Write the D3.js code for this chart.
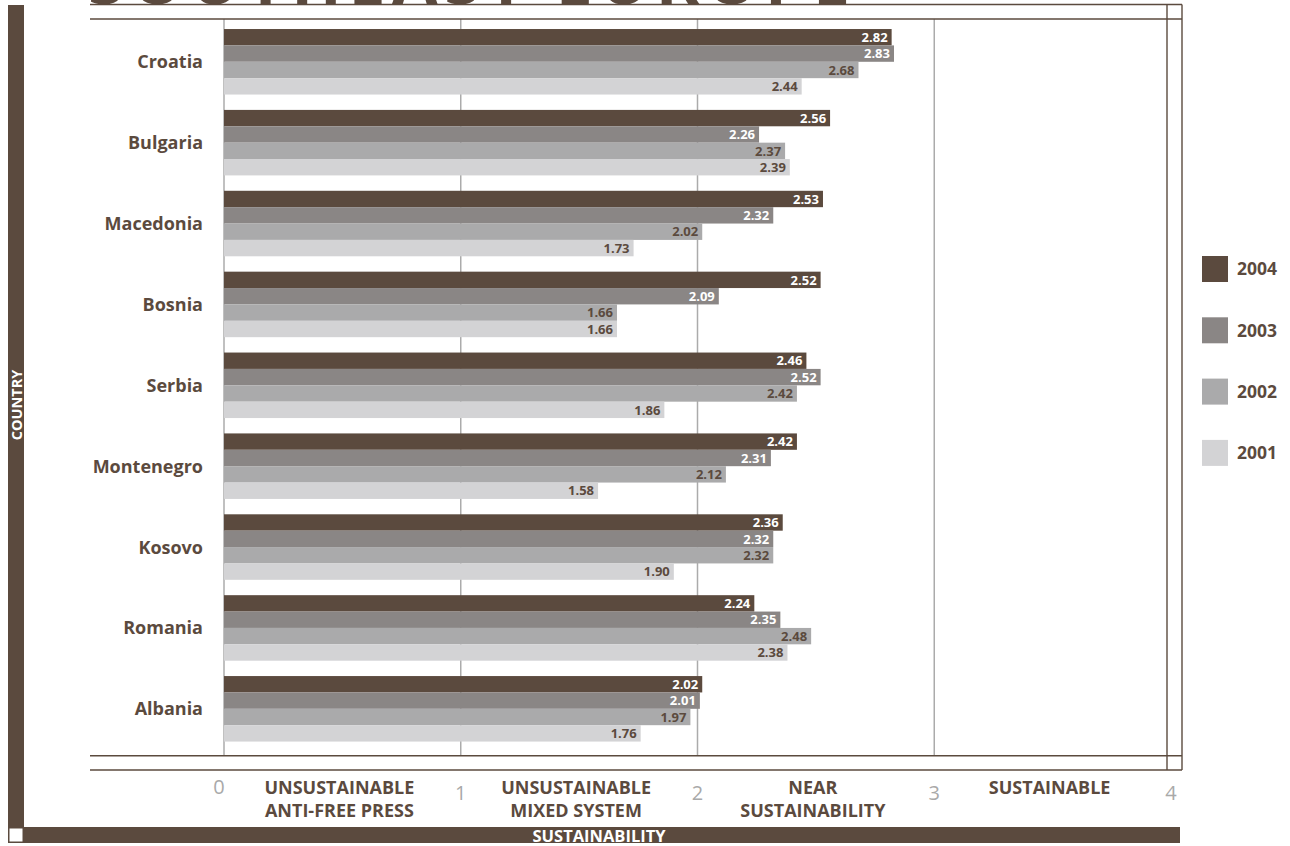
<!DOCTYPE html>
<html>
<head>
<meta charset="utf-8">
<script src="https://cdn.jsdelivr.net/npm/d3@7/dist/d3.min.js"></script>
<style>
  html, body { margin: 0; padding: 0; background: #fff; }
  svg { display: block; font-family: "Open Sans", "Noto Sans", sans-serif; }
</style>
</head>
<body>
<svg id="chart" width="1290" height="846"></svg>
<script>
// Media sustainability scores, Southeast Europe
const countries = ["Croatia", "Bulgaria", "Macedonia", "Bosnia", "Serbia", "Montenegro", "Kosovo", "Romania", "Albania"];
const years = ["2004", "2003", "2002", "2001"];
const v2004 = [2.82, 2.56, 2.53, 2.52, 2.46, 2.42, 2.36, 2.24, 2.02];
const v2003 = [2.83, 2.26, 2.32, 2.09, 2.52, 2.31, 2.32, 2.35, 2.01];
const v2002 = [2.68, 2.37, 2.02, 1.66, 2.42, 2.12, 2.32, 2.48, 1.97];
const v2001 = [2.44, 2.39, 1.73, 1.66, 1.86, 1.58, 1.90, 2.38, 1.76];
const tickValues = [0, 1, 2, 3, 4];
const zoneLabels = [
  ["UNSUSTAINABLE", "ANTI-FREE PRESS"],
  ["UNSUSTAINABLE", "MIXED SYSTEM"],
  ["NEAR", "SUSTAINABILITY"],
  ["SUSTAINABLE"]
];
const titleText = "SOUTHEAST EUROPE";
const yAxisTitle = "COUNTRY";
const xAxisTitle = "SUSTAINABILITY";

const seriesByYear = { "2004": v2004, "2003": v2003, "2002": v2002, "2001": v2001 };

const BROWN = "#5b4a3e";
const colors = d3.scaleOrdinal().domain(years).range([BROWN, "#8a8685", "#aaaaab", "#d3d3d5"]);
const labelColors = d3.scaleOrdinal().domain(years).range(["#ffffff", "#ffffff", BROWN, BROWN]);

const svg = d3.select("#chart");

// frame geometry
const frameLeft = 90, frameRight = 1182, frameInnerRight = 1167;
const frameTop = 4.5, innerTop = 19, innerBottom = 755.7, frameBottom = 770;

const x = d3.scaleLinear().domain([0, 4]).range([224, 1171]);
const y = d3.scaleBand().domain(countries).range([innerTop, 751.6]).paddingInner(0.19).paddingOuter(0.124);
const yInner = d3.scaleBand().domain(years).range([0, y.bandwidth()]);

// title (runs off the top of the page)
svg.append("text")
  .attr("x", 88).attr("y", 4)
  .attr("textLength", 762).attr("lengthAdjust", "spacing")
  .attr("font-size", 66).attr("font-weight", 700)
  .attr("fill", BROWN)
  .text(titleText);

// left and bottom brown bars
svg.append("rect").attr("x", 8).attr("y", 5).attr("width", 16).attr("height", 838).attr("fill", BROWN);
svg.append("rect").attr("x", 8).attr("y", 827).attr("width", 1172).attr("height", 16).attr("fill", BROWN);
svg.append("rect").attr("x", 9.5).attr("y", 828.5).attr("width", 13).attr("height", 13).attr("fill", "#fff");

svg.append("text")
  .attr("transform", "translate(21.5,405) rotate(-90)")
  .attr("text-anchor", "middle")
  .attr("font-size", 14.5).attr("font-weight", 700).attr("fill", "#fff")
  .text(yAxisTitle);

svg.append("text")
  .attr("x", 599).attr("y", 841.5)
  .attr("text-anchor", "middle")
  .attr("font-size", 16.5).attr("font-weight", 700).attr("fill", "#fff")
  .text(xAxisTitle);

// gridlines
svg.append("g").selectAll("line")
  .data(tickValues.slice(0, 4))
  .join("line")
  .attr("x1", d => x(d)).attr("x2", d => x(d))
  .attr("y1", innerTop).attr("y2", innerBottom)
  .attr("stroke", "#ababab").attr("stroke-width", 1.5);

// bars
const groups = svg.append("g").selectAll("g")
  .data(countries)
  .join("g")
  .attr("transform", d => `translate(0,${y(d)})`);

groups.selectAll("rect")
  .data((c, i) => years.map(yr => ({ year: yr, value: seriesByYear[yr][i] })))
  .join("rect")
  .attr("x", x(0))
  .attr("y", d => yInner(d.year))
  .attr("width", d => x(d.value) - x(0))
  .attr("height", yInner.bandwidth())
  .attr("fill", d => colors(d.year));

groups.selectAll("text.val")
  .data((c, i) => years.map(yr => ({ year: yr, value: seriesByYear[yr][i] })))
  .join("text")
  .attr("class", "val")
  .attr("x", d => x(d.value) - 4)
  .attr("y", d => yInner(d.year) + yInner.bandwidth() / 2)
  .attr("dy", "0.36em")
  .attr("text-anchor", "end")
  .attr("font-size", 13).attr("font-weight", 700)
  .attr("fill", d => labelColors(d.year))
  .text(d => d.value.toFixed(2));

// country labels
svg.append("g").selectAll("text")
  .data(countries)
  .join("text")
  .attr("x", 203)
  .attr("y", d => y(d) + y.bandwidth() / 2)
  .attr("dy", "0.36em")
  .attr("text-anchor", "end")
  .attr("font-size", 18).attr("font-weight", 700)
  .attr("fill", BROWN)
  .text(d => d);

// frame lines
const frame = svg.append("g").attr("stroke", BROWN).attr("stroke-width", 1.4);
[frameTop, innerTop, innerBottom, frameBottom].forEach(yy => {
  frame.append("line").attr("x1", frameLeft).attr("x2", frameRight).attr("y1", yy).attr("y2", yy);
});
[frameInnerRight, frameRight].forEach(xx => {
  frame.append("line").attr("x1", xx).attr("x2", xx).attr("y1", frameTop).attr("y2", frameBottom);
});

// bottom axis: tick numbers and zone names
svg.append("g").selectAll("text")
  .data(tickValues)
  .join("text")
  .attr("x", d => x(d) - (d === 0 ? 5 : 0))
  .attr("y", d => d === 0 ? 794 : 800)
  .attr("text-anchor", "middle")
  .attr("font-size", 20).attr("font-weight", 400)
  .attr("fill", "#a9a9a9")
  .text(d => d);

const zones = svg.append("g").selectAll("text")
  .data(zoneLabels)
  .join("text")
  .attr("x", (d, i) => (x(i) + x(i + 1)) / 2 - 3)
  .attr("y", 793.5)
  .attr("text-anchor", "middle")
  .attr("font-size", 18).attr("font-weight", 700)
  .attr("fill", BROWN);
zones.selectAll("tspan")
  .data(d => d)
  .join("tspan")
  .attr("x", function () { return d3.select(this.parentNode).attr("x"); })
  .attr("dy", (d, i) => i === 0 ? 0 : 23)
  .text(d => d);

// legend
const legend = svg.append("g").selectAll("g")
  .data(years)
  .join("g")
  .attr("transform", (d, i) => `translate(1202,${256 + i * 61.3})`);
legend.append("rect").attr("width", 26).attr("height", 26).attr("fill", d => colors(d));
legend.append("text")
  .attr("x", 35).attr("y", 13).attr("dy", "0.36em")
  .attr("font-size", 17.5).attr("font-weight", 700)
  .attr("fill", BROWN)
  .text(d => d);
</script>
</body>
</html>
